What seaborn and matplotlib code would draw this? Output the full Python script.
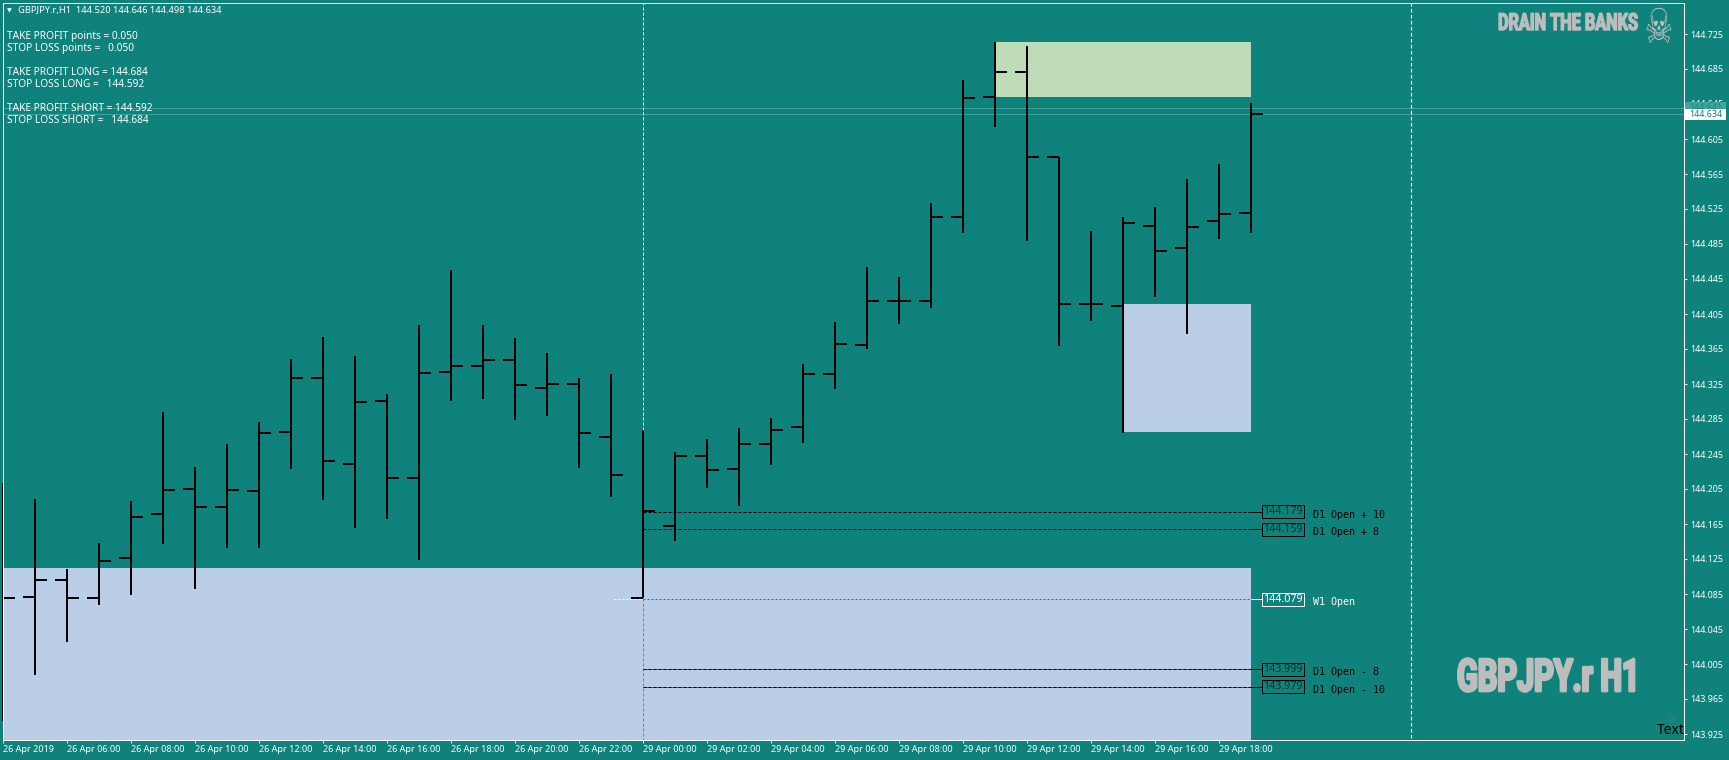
import matplotlib
matplotlib.use("Agg")
import matplotlib.pyplot as plt
import matplotlib.patheffects as pe
from matplotlib.patches import Rectangle
from matplotlib.transforms import Affine2D
import numpy as np
import pandas as pd
import seaborn as sns

# ---- data -----------------------------------------------------------------
opens = [144.100, 144.082, 144.101, 144.081, 144.126, 144.176, 144.205, 144.184, 144.203, 144.270,
         144.332, 144.234, 144.306, 144.217, 144.339, 144.346, 144.352, 144.321, 144.325, 144.265,
         144.080, 144.163, 144.243, 144.228, 144.257, 144.276, 144.337, 144.370, 144.420, 144.420,
         144.516, 144.653, 144.682, 144.584, 144.417, 144.414, 144.506, 144.480, 144.511, 144.520]
highs = [144.212, 144.194, 144.114, 144.143, 144.191, 144.293, 144.230, 144.256, 144.282, 144.354,
         144.379, 144.357, 144.314, 144.392, 144.455, 144.392, 144.378, 144.360, 144.332, 144.336,
         144.272, 144.247, 144.262, 144.275, 144.286, 144.348, 144.396, 144.459, 144.447, 144.532,
         144.672, 144.716, 144.711, 144.584, 144.500, 144.516, 144.527, 144.559, 144.576, 144.646]
lows = [143.940, 143.992, 144.030, 144.073, 144.084, 144.142, 144.091, 144.138, 144.138, 144.228,
        144.192, 144.160, 144.171, 144.124, 144.306, 144.308, 144.284, 144.288, 144.229, 144.196,
        144.080, 144.146, 144.206, 144.186, 144.233, 144.258, 144.319, 144.365, 144.394, 144.412,
        144.498, 144.619, 144.489, 144.368, 144.397, 144.269, 144.424, 144.382, 144.491, 144.498]
closes = [144.080, 144.101, 144.081, 144.123, 144.173, 144.204, 144.185, 144.204, 144.269, 144.332,
          144.237, 144.305, 144.217, 144.338, 144.346, 144.353, 144.324, 144.325, 144.269, 144.221,
          144.180, 144.243, 144.227, 144.256, 144.272, 144.336, 144.371, 144.420, 144.420, 144.516,
          144.652, 144.681, 144.585, 144.417, 144.417, 144.509, 144.477, 144.504, 144.519, 144.634]

price_ticks = [144.725, 144.685, 144.645, 144.605, 144.565, 144.525, 144.485, 144.445, 144.405, 144.365,
               144.325, 144.285, 144.245, 144.205, 144.165, 144.125, 144.085, 144.045, 144.005, 143.965,
               143.925]
time_tick_bars = [0, 2, 4, 6, 8, 10, 12, 14, 16, 18, 20, 22, 24, 26, 28, 30, 32, 34, 36, 38]
time_tick_labels = ["26 Apr 2019", "26 Apr 06:00", "26 Apr 08:00", "26 Apr 10:00", "26 Apr 12:00",
                    "26 Apr 14:00", "26 Apr 16:00", "26 Apr 18:00", "26 Apr 20:00", "26 Apr 22:00",
                    "29 Apr 00:00", "29 Apr 02:00", "29 Apr 04:00", "29 Apr 06:00", "29 Apr 08:00",
                    "29 Apr 10:00", "29 Apr 12:00", "29 Apr 14:00", "29 Apr 16:00", "29 Apr 18:00"]

bid_price = 144.634
ask_price = 144.641
level_names = ["D1 Open + 10", "D1 Open + 8", "W1 Open", "D1 Open - 8", "D1 Open - 10"]
level_prices = [144.179, 144.159, 144.079, 143.999, 143.979]
zone_prices = {"blue_low": (143.900, 144.115), "blue_high": (144.270, 144.416), "green": (144.653, 144.716)}
zone_bars = {"blue_low": (0, 39), "blue_high": (35, 39), "green": (31, 39)}
comment_lines = ["TAKE PROFIT points = 0.050", "STOP LOSS points =   0.050",
                 "TAKE PROFIT LONG = 144.684", "STOP LOSS LONG =   144.592",
                 "TAKE PROFIT SHORT = 144.592", "STOP LOSS SHORT =   144.684"]
header = "GBPJPY.r,H1  144.520 144.646 144.498 144.634"

# ---- style ----------------------------------------------------------------
W, H = 1729, 760
TEAL = "#0E827B"
BLUE = "#BBCEE8"
GREEN = "#BEDCB8"
PALE = "#41A39E"
GREY = "#BDBDBD"
PX = 0.72  # 1 pixel in points at dpi 100

sns.set_theme(style="white", rc={"axes.facecolor": TEAL, "figure.facecolor": TEAL, "savefig.facecolor": TEAL})
plt.rcParams["font.family"] = ["Noto Sans", "DejaVu Sans"]

fig = plt.figure(figsize=(W / 100, H / 100), dpi=100)
L, R, T, B = 2.5, 1683.5, 2.5, 739.5
ax = fig.add_axes([L / W, 1 - B / H, (R - L) / W, (B - T) / H])
ax.set_xlim((L - 3) / 32, (R - 3) / 32)
ax.set_ylim(144.725 - (B - 34) / 875, 144.725 + (34 - T) / 875)


class Stretch(pe.AbstractPathEffect):
    """Draws real text squeezed or stretched about a pixel anchor, with a thicker stroke."""

    def __init__(self, sx, sy, x0, y0, stroke=0.0):
        super().__init__()
        self.sx, self.sy, self.x0, self.y0, self.stroke = sx, sy, x0, H - y0, stroke

    def draw_path(self, renderer, gc, tpath, affine, rgbFace):
        a = affine + Affine2D().translate(-self.x0, -self.y0).scale(self.sx, self.sy).translate(self.x0, self.y0)
        g = renderer.new_gc()
        g.copy_properties(gc)
        g.set_linewidth(self.stroke)
        g.set_foreground(rgbFace)
        renderer.draw_path(g, tpath, a, rgbFace)
        g.restore()


def figtext(x, y, s, **kw):
    kw.setdefault("va", "center")
    return fig.text(x / W, 1 - y / H, s, **kw)


def figbox(x0, y0, x1, y1, color, zorder):
    fig.add_artist(Rectangle((x0 / W, 1 - y1 / H), (x1 - x0) / W, (y1 - y0) / H, transform=fig.transFigure,
                             fc=color, ec="none", zorder=zorder))


# zones
for name, col in [("blue_low", BLUE), ("blue_high", BLUE), ("green", GREEN)]:
    x0, x1 = zone_bars[name]
    y0, y1 = zone_prices[name]
    ax.fill_between([x0, x1], y0, y1, color=col, lw=0, zorder=1)

# bid / ask lines
ax.axhline(ask_price, color=PALE, lw=PX, zorder=1.5)
ax.axhline(bid_price, color=PALE, lw=PX, zorder=1.5)

# period separators
dash = (0, (3, 2))
ax.vlines(20, highs[20], 145, color="white", lw=PX, linestyles=[dash], zorder=1.6)
ax.vlines(20, 143, lows[20], color="#3AA86B", lw=PX, linestyles=[dash], zorder=1.6)
ax.vlines(44, 143.921, 145, color="white", lw=PX * 1.2, linestyles=[dash], zorder=1.6)

# level lines and their labels
tail_end = 39.34
for i, (name, p) in enumerate(zip(level_names, level_prices)):
    if name == "W1 Open":
        ax.hlines(p, 19.1, 20, color="white", lw=PX, linestyles=[(0, (2, 2))], zorder=2)
        ax.hlines(p, 20, 39, color=TEAL, lw=PX, linestyles=[(0, (2, 2))], zorder=2)
        ax.hlines(p, 39, tail_end + 0.3, color="white", lw=PX, zorder=2)
        edge, txt, note = "white", "white", "white"
    else:
        if p < 144.115:
            ax.hlines(p, 20, 39, color=TEAL, lw=PX, zorder=2)
        ax.hlines(p, 20, tail_end, color="black", lw=PX, linestyles=[(0, (3, 2))], zorder=2)
        ax.hlines(p, 39, tail_end + 0.3, color="black", lw=PX, zorder=2)
        edge, txt, note = "black", "#04302D", "black"
    ax.annotate(f"{p:.3f}", xy=(40, p), ha="center", va="center", color=txt, fontsize=7.7, zorder=4,
                bbox=dict(boxstyle="square,pad=0.1", fc=TEAL, ec=edge, lw=PX))
    ax.annotate(name, xy=(40.94, p), xytext=(0, -3), textcoords="offset pixels", ha="left", va="center",
                fontsize=7.2, family="DejaVu Sans Mono", color=note, zorder=4)

# OHLC bars
df = pd.DataFrame({"bar": np.arange(len(opens)), "open": opens, "high": highs, "low": lows, "close": closes})
long_df = df.melt(id_vars="bar", value_vars=["high", "low"], value_name="price").sort_values("bar")
sns.lineplot(data=long_df, x="bar", y="price", units="bar", estimator=None, sort=False, color="black",
             lw=2 * PX, solid_capstyle="butt", legend=False, ax=ax, zorder=3)
for line in ax.get_lines():
    if line.get_zorder() == 3:
        line.set_clip_on(False)
ax.hlines(df["open"], df["bar"] - 0.375, df["bar"], color="black", lw=2 * PX, zorder=3)
ax.hlines(df["close"], df["bar"], df["bar"] + 0.375, color="black", lw=2 * PX, zorder=3)

# axes furniture
ax.set_xlabel("")
ax.set_ylabel("")
ax.yaxis.tick_right()
ax.set_yticks(price_ticks, [f"{v:.3f}" for v in price_ticks])
ax.set_xticks(time_tick_bars, time_tick_labels, ha="left")
ax.tick_params(axis="y", colors="white", length=2.5, width=PX, pad=2.5, labelsize=6.4, right=True)
ax.tick_params(axis="x", colors="white", length=2.5, width=PX, pad=1.5, labelsize=6.5, bottom=True)
for s in ax.spines.values():
    s.set_color("white")
    s.set_linewidth(PX)
    s.set_visible(True)
    s.set_zorder(5)
ax.grid(False)

# price boxes on the scale
figbox(1685, 102, 1726, 113, PALE, 5)
figtext(1689, 107, f"{ask_price:.3f}", color="#1B8B86", fontsize=6.4, zorder=5.1)
figbox(1685, 109, 1726, 120, "white", 5.2)
figtext(1689, 114.3, f"{bid_price:.3f}", color=TEAL, fontsize=6.4, zorder=5.3)

# header and comment
figtext(7, 10.5, "\u25BC", color="white", fontsize=4.5, family="DejaVu Sans")
figtext(18, 10.5, header, color="white", fontsize=6.7)
for y, line in zip([36.5, 48.5, 72.5, 84.5, 108.5, 120.5], comment_lines):
    figtext(7, y, line, color="white", fontsize=7.3, zorder=6)

# watermarks
heavy = ["Roboto", "DejaVu Sans"]
t = figtext(1498, 30, "DRAIN THE BANKS", color=GREY, fontsize=11.7, family=heavy, fontweight="bold", va="baseline")
t.set_path_effects([Stretch(1.0, 1.45, 1498, 30, stroke=1.0)])
t = figtext(1659, 30, "\u2620", color=GREY, fontsize=23, family="DejaVu Sans", ha="center")
t.set_path_effects([Stretch(1.0, 1.5, 1659, 30)])
t = figtext(1457, 691, "GBPJPY.r H1", color=GREY, fontsize=22, family=heavy, fontweight="bold", va="baseline")
t.set_path_effects([Stretch(1.0, 1.47, 1457, 691, stroke=2.0)])
figtext(1672, 720, "\u2620", color="#4E7A77", fontsize=7, family="DejaVu Sans", ha="center")
figtext(1657, 730, "Text", color="black", fontsize=10)

fig.savefig("out.png", dpi=100)
